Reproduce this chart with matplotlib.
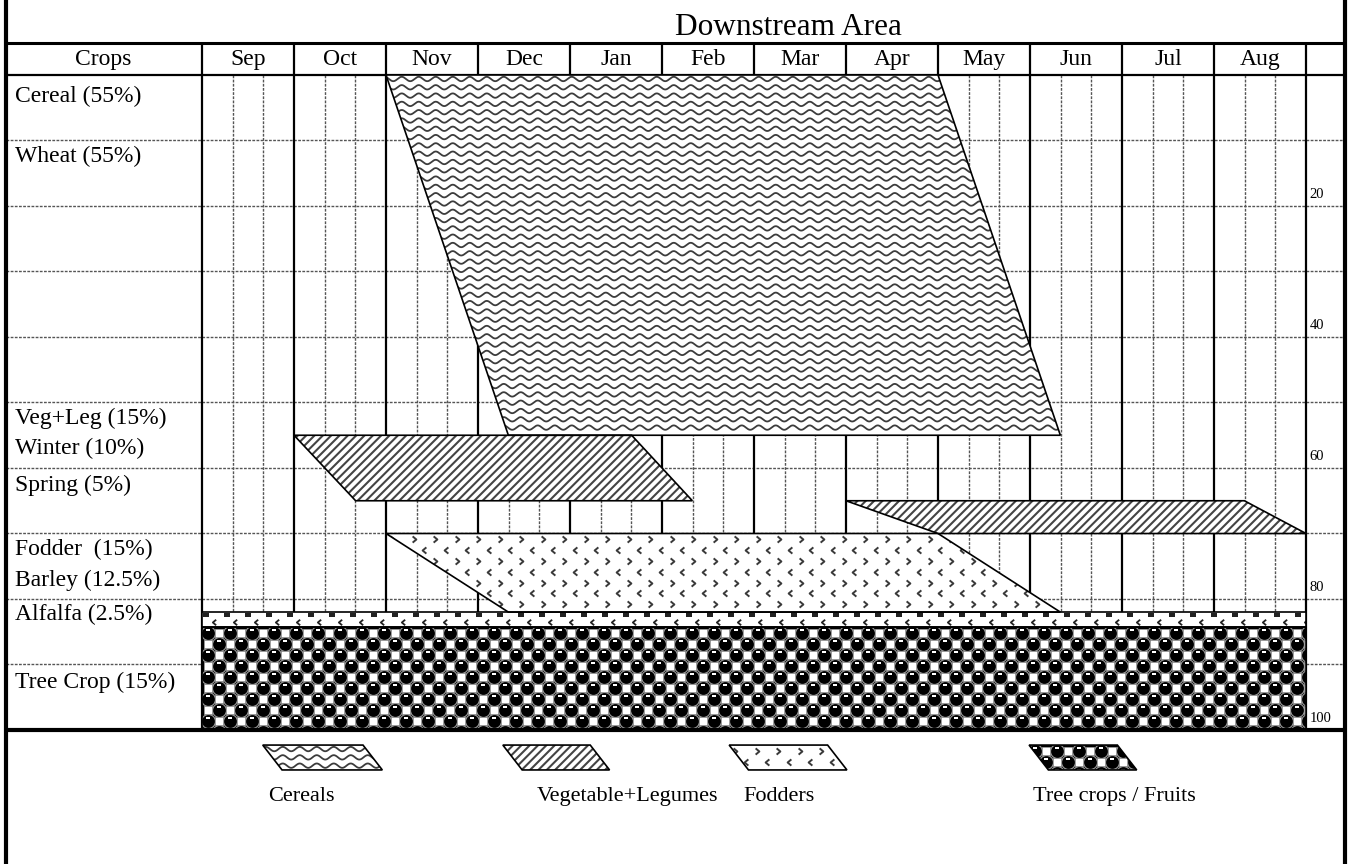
import numpy as np
import matplotlib
matplotlib.use('Agg')
import matplotlib.pyplot as plt
from matplotlib.patches import Polygon
from matplotlib.path import Path

plt.rcParams['font.family'] = ['Liberation Serif', 'DejaVu Serif']
plt.rcParams['hatch.linewidth'] = 1.5

# data
##########
months = ['Sep', 'Oct', 'Nov', 'Dec', 'Jan', 'Feb', 'Mar', 'Apr', 'May', 'Jun', 'Jul', 'Aug']

row_labels = ['Cereal (55%)', 'Wheat (55%)', 'Veg+Leg (15%)', 'Winter (10%)', 'Spring (5%)',
              'Fodder  (15%)', 'Barley (12.5%)', 'Alfalfa (2.5%)', 'Tree Crop (15%)']
row_label_at = [3.3, 12.5, 52.4, 57.0, 62.6, 72.5, 77.1, 82.4, 92.7]   # % of area

# crop bands: share of area (top/bottom, %) and months since 1 Sep
band_top = [0, 55, 65, 70, 82, 84.3]
band_bottom = [55, 65, 70, 82, 84.3, 100]
top_start = [2.0, 1.0, 7.0, 2.0, 0, 0]
top_end = [8.0, 4.67, 11.33, 8.0, 12, 12]
bottom_start = [3.33, 1.67, 8.0, 3.33, 0, 0]
bottom_end = [9.33, 5.33, 12.0, 9.33, 12, 12]
band_kind = ['cereal', 'veg', 'veg', 'fodder', 'alfalfa', 'tree']

legend_labels = ['Cereals', 'Vegetable+Legumes', 'Fodders', 'Tree crops / Fruits']
legend_kind = ['cereal', 'veg', 'fodder', 'tree']

scale_ticks = [20, 40, 60, 80, 100]
##########

# layout (pixels)
W, H = 1349, 864
X0, PXM = 202, 92.0     # month 0 at x=202, 92 px per month
Y0, PXP = 75, 6.55      # 0 % at y=75, 6.55 px per percent

fig = plt.figure(figsize=(W / 100, H / 100), dpi=100)
ax = fig.add_axes([0, 0, 1, 1])
ax.set_xlim(-X0 / PXM, (W - X0) / PXM)
ax.set_ylim((H - Y0) / PXP, -Y0 / PXP)
ax.axis('off')

x_left = (6 - X0) / PXM
x_right = (1345 - X0) / PXM
y_head = (43 - Y0) / PXP

chev_r = Path([(-0.6, 1), (0.6, 0), (-0.6, -1)], [Path.MOVETO, Path.LINETO, Path.LINETO])
chev_l = Path([(0.6, 1), (-0.6, 0), (0.6, -1)], [Path.MOVETO, Path.LINETO, Path.LINETO])


def texture(poly, kind):
    v = poly.get_xy()
    x0, x1 = v[:, 0].min(), v[:, 0].max()
    y0, y1 = v[:, 1].min(), v[:, 1].max()
    arts = []
    if kind == 'cereal':
        xs = np.arange(x0, x1, 1 / PXM)
        for yy in np.arange(y0 + 4 / PXP, y1, 8.3 / PXP):
            ln, = ax.plot(xs, yy + 2.2 / PXP * np.sin(2 * np.pi * xs * PXM / 17),
                          color='#3c3c3c', lw=1.3, zorder=2.5)
            arts.append(ln)
    elif kind == 'fodder':
        for j, yy in enumerate(np.arange(y0 + 6 / PXP, y1, 10.8 / PXP)):
            xs = np.arange(x0 + 6 / PXM + (j % 2) * 10.75 / PXM, x1, 21.5 / PXM)
            ln, = ax.plot(xs, np.full(len(xs), yy), ls='none', marker=chev_r if j % 2 == 0 else chev_l,
                          ms=4.5, mfc='none', mec='#3a3a3a', mew=1.4, zorder=2.5)
            arts.append(ln)
    elif kind == 'alfalfa':
        xs = np.arange(x0 + 4 / PXM, x1, 21 / PXM)
        ln, = ax.plot(xs, np.full(len(xs), y0 + 3 / PXP), ls='none', marker='_', ms=4,
                      mec='#222222', mew=1.5, zorder=2.5)
        arts.append(ln)
        xs = np.arange(x0 + 12 / PXM, x1, 21 / PXM)
        ln, = ax.plot(xs, np.full(len(xs), y0 + 10 / PXP), ls='none', marker=chev_l, ms=4,
                      mfc='none', mec='#222222', mew=1.3, zorder=2.5)
        arts.append(ln)
    elif kind == 'tree':
        for j, yy in enumerate(np.arange(y0 + 5.5 / PXP, y1 + 6 / PXP, 11 / PXP)):
            xs = np.arange(x0 + 5.5 / PXM + (j % 2) * 11 / PXM, x1 + 11 / PXM, 22 / PXM)
            ln, = ax.plot(xs, np.full(len(xs), yy), ls='none', marker='o', ms=10,
                          mfc='black', mec='#9a9a9a', mew=0.8, zorder=2.4)
            arts.append(ln)
            ln, = ax.plot(xs, np.full(len(xs), yy - 2.5 / PXP), ls='none', marker='_', ms=3,
                          mec='white', mew=1.2, zorder=2.6)
            arts.append(ln)
            xs = np.arange(x0 + 5.5 / PXM + ((j + 1) % 2) * 11 / PXM, x1 + 11 / PXM, 22 / PXM)
            ln, = ax.plot(xs, np.full(len(xs), yy), ls='none', marker='s', ms=5.5,
                          mfc='white', mec='#999999', mew=0.6, zorder=2.5)
            arts.append(ln)
    for a in arts:
        a.set_clip_path(poly)


def band(verts, kind):
    face = 'black' if kind == 'tree' else 'white'
    poly = Polygon(verts, closed=True, facecolor=face, edgecolor='#444444', lw=0,
                   hatch='////' if kind == 'veg' else None, zorder=2)
    ax.add_patch(poly)
    texture(poly, kind)
    ax.add_patch(Polygon(verts, closed=True, fill=False, edgecolor='black', lw=1.2, zorder=3))


# grid
sub = [m + f for m in range(12) for f in (1 / 3, 2 / 3)]
ax.vlines(sub, 0, 100, colors='#555555', lw=1, linestyles=(0, (2, 1)), zorder=1)
ax.hlines(np.arange(10, 100, 10), x_left, x_right, colors='#555555', lw=1,
          linestyles=(0, (2, 1)), zorder=1)
ax.vlines(range(13), y_head, 100, colors='black', lw=1.6, zorder=1.5)
ax.hlines(0, x_left, x_right, colors='black', lw=1.6, zorder=1.5)
ax.hlines(y_head, x_left, x_right, colors='black', lw=2.2, zorder=4)
ax.hlines(100, x_left, x_right, colors='black', lw=3, zorder=4)
ax.vlines([x_left, x_right], ax.get_ylim()[1], ax.get_ylim()[0], colors='black', lw=3, zorder=4)

# crop bands
for i in range(len(band_kind)):
    verts = [(top_start[i], band_top[i]), (top_end[i], band_top[i]),
             (bottom_end[i], band_bottom[i]), (bottom_start[i], band_bottom[i])]
    band(verts, band_kind[i])

# header
ax.text(6.37, (35 - Y0) / PXP, 'Downstream Area', fontsize=22.5, ha='center', va='baseline')
ax.text(-1.07, -2.3, 'Crops', fontsize=17, ha='center', va='center')
for i, m in enumerate(months):
    ax.text(i + 0.5, -2.3, m, fontsize=17, ha='center', va='center')

for lab, yy in zip(row_labels, row_label_at):
    ax.text((15 - X0) / PXM, yy, lab, fontsize=17, ha='left', va='center')

for t in scale_ticks:
    ax.text(12.04, t - 0.7, str(t), fontsize=10.5, ha='left', va='bottom')

# legend
leg_left = [0.66, 3.27, 5.73, 8.99]
leg_width = [1.09, 0.95, 1.07, 0.96]
leg_text_x = [0.72, 3.64, 5.88, 9.03]
leg_top, leg_bot, skew = 102.3, 106.1, 0.21
for i, kind in enumerate(legend_kind):
    verts = [(leg_left[i], leg_top), (leg_left[i] + leg_width[i], leg_top),
             (leg_left[i] + leg_width[i] + skew, leg_bot), (leg_left[i] + skew, leg_bot)]
    band(verts, kind)
    ax.text(leg_text_x[i], 110.2, legend_labels[i], fontsize=16, ha='left', va='center')

plt.savefig('out.png', dpi=100)
